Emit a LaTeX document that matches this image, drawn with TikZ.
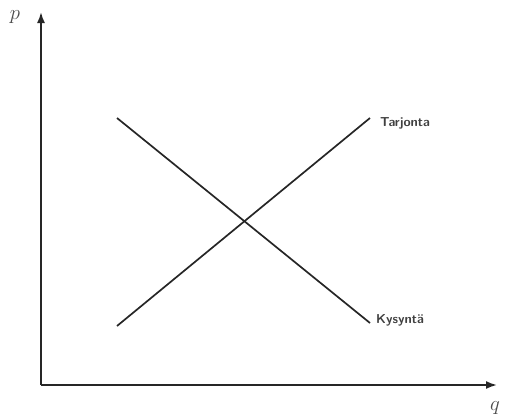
\documentclass[tikz,border=0pt]{standalone}
\usetikzlibrary{arrows.meta}
\begin{document}
\begin{tikzpicture}[x=1pt,y=-1pt,
  axis/.style={line width=1.8pt,draw=black!85,-{Latex[length=11pt,width=8pt]}},
  curve/.style={line width=1.7pt,draw=black!85},
  lbl/.style={font=\sffamily\bfseries\fontsize{13}{15}\selectfont,text=black!75,anchor=west,inner sep=0pt},
  vlbl/.style={font=\fontsize{20}{22}\selectfont,text=black!70,inner sep=0pt}]
\useasboundingbox (0,0) rectangle (507,418);
\coordinate (O) at (41,385);
\coordinate (ytop) at (41,12);
\coordinate (xend) at (497,385);
\draw[axis] (O) -- (ytop);
\draw[axis] (O) -- (xend);
\node[vlbl] (p) at (15,17) {$p$};
\node[vlbl] (q) at (495,408) {$q$};
\coordinate (s1) at (117,326);
\coordinate (s2) at (370,118);
\coordinate (d1) at (117,118);
\coordinate (d2) at (370,323);
\draw[curve] (s1) -- (s2);
\draw[curve] (d1) -- (d2);
\node[lbl] (tarj) at (380,123) {Tarjonta};
\node[lbl] (kys) at (376,320) {Kysyntä};
\end{tikzpicture}
\end{document}
